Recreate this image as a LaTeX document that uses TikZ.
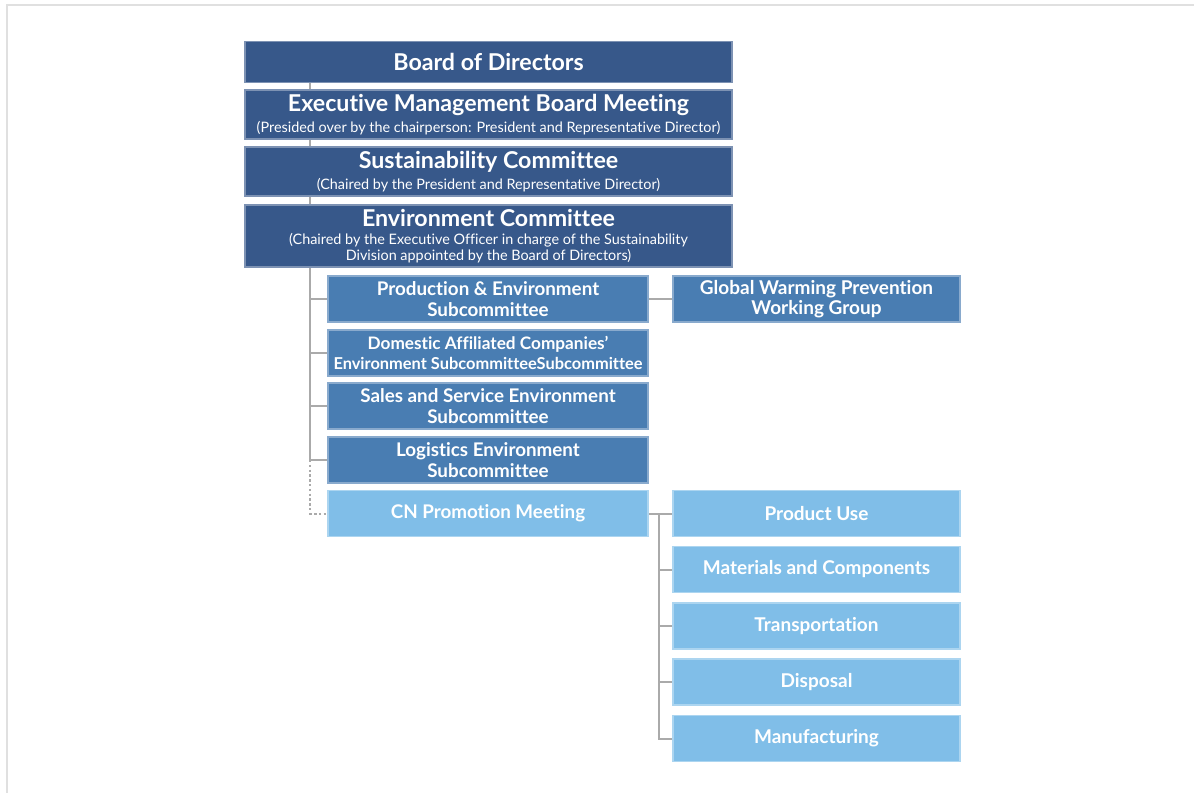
\documentclass[tikz,border=0pt]{standalone}
\usepackage{fontspec}
\setmainfont{Lato}[Ligatures=CommonOff]
\usetikzlibrary{backgrounds}
\definecolor{navyblue}{RGB}{55,88,138}
\definecolor{midblue}{RGB}{73,125,178}
\definecolor{skyblue}{RGB}{128,190,232}
\definecolor{linkgray}{RGB}{170,170,170}
\definecolor{framegray}{RGB}{224,224,224}
\newcommand{\boxtitle}{\fontsize{11.6}{13}\selectfont\bfseries}
\newcommand{\boxnote}{\fontsize{7.2}{8}\selectfont}

\begin{document}
\begin{tikzpicture}[
  x=0.5pt, y=-0.5pt,
  box/.style={
    align=center,
    inner sep=0pt,
    text=white,
    line width=0.6pt
  },
  top/.style={box, fill=navyblue, draw=navyblue!65!white,
    minimum width=243.5pt},
  sub/.style={box, fill=midblue, draw=midblue!65!white,
    minimum width=160pt, minimum height=23pt,
    font=\fontsize{9.4}{10.2}\selectfont\bfseries},
  side/.style={box, fill=midblue, draw=midblue!65!white,
    minimum width=143.5pt, minimum height=23pt,
    font=\fontsize{9.5}{10.2}\selectfont\bfseries},
  cnbox/.style={sub, fill=skyblue, draw=skyblue!65!white},
  area/.style={side, fill=skyblue, draw=skyblue!65!white},
  link/.style={draw=linkgray, line width=1pt},
  weak/.style={link, dash pattern=on 1.2pt off 1.2pt}
]
\useasboundingbox (0,0) rectangle (1194,793);
\draw[framegray, line width=1pt] (7,793) -- (7,5) -- (1194,5);

\coordinate (trunk) at (310,0);
\coordinate (fork) at (659,0);

% management chain
\node[top, minimum height=20.5pt] (board) at (488.5,62) {\boxtitle Board of Directors};
\node[top, minimum height=24.5pt] (exec) at (488.5,114.5)
  {\boxtitle Executive Management Board Meeting\\[-1.5pt]
   \boxnote (Presided over by the chairperson: President and Representative Director)};
\node[top, minimum height=24.5pt] (sust) at (488.5,171.5)
  {\boxtitle Sustainability Committee\\[-1.5pt]
   \boxnote (Chaired by the President and Representative Director)};
\node[top, minimum height=31pt] (env) at (488.5,236)
  {\boxtitle Environment Committee\\[-3pt]
   \boxnote (Chaired by the Executive Officer in charge of the Sustainability\\[-4pt]
   \boxnote Division appointed by the Board of Directors)};

% subcommittees
\node[sub] (prod) at (488,299) {Production \& Environment\\Subcommittee};
\node[sub] (dom) at (488,353)
  {{\fontsize{8.6}{9.6}\selectfont Domestic Affiliated Companies'}\\{\fontsize{8.2}{9.6}\selectfont Environment SubcommitteeSubcommittee}};
\node[sub] (sales) at (488,406) {Sales and Service Environment\\Subcommittee};
\node[sub] (logi) at (488,460) {Logistics Environment\\Subcommittee};
\node[cnbox] (cn) at (488,513.5) {CN Promotion Meeting};

\node[side] (gw) at (816.5,299) {Global Warming Prevention\\Working Group};

% CN areas
\node[area] (use) at (816.5,513.5) {Product Use};
\node[area] (mat) at (816.5,569.5) {Materials and Components};
\node[area] (trans) at (816.5,626) {Transportation};
\node[area] (disp) at (816.5,682) {Disposal};
\node[area] (manu) at (816.5,738.5) {Manufacturing};

\begin{scope}[on background layer]
  \draw[link] (board.south -| trunk) |- (logi.west);
  \foreach \n in {prod,dom,sales}
    \draw[link] (trunk |- \n.west) -- (\n.west);
  \draw[weak] (trunk |- logi.west) |- (cn.west);
  \draw[link] (prod.east) -- (gw.west);
  \draw[link] (cn.east) -- (use.west);
  \draw[link] (fork |- use.west) |- (manu.west);
  \foreach \n in {mat,trans,disp}
    \draw[link] (fork |- \n.west) -- (\n.west);
\end{scope}

\end{tikzpicture}
\end{document}
